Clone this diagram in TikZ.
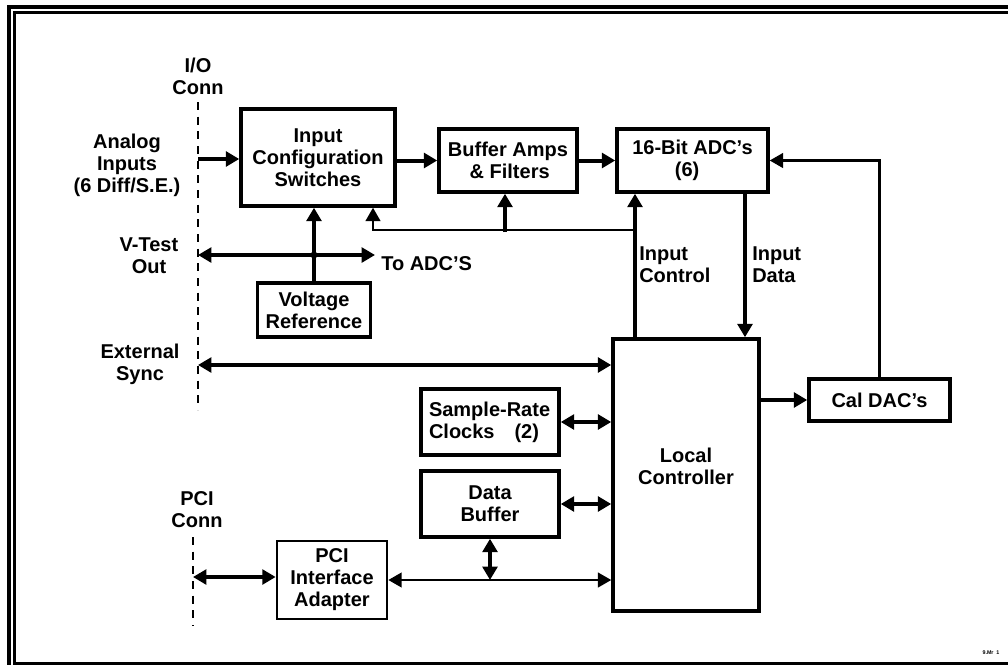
\documentclass[tikz,border=0pt]{standalone}
\usepackage{fontspec}
\setmainfont{Liberation Sans}
\usetikzlibrary{arrows.meta}
\newcommand{\lblfont}{\fontsize{15}{16.5}\selectfont\bfseries}
\tikzset{
  box/.style={draw, line width=2.6pt, inner sep=0pt, align=center, font=\lblfont},
  lbl/.style={inner sep=0pt, align=center, font=\lblfont},
  tip/.tip={Triangle[length=10pt,width=11pt]},
  arr/.style={line width=3pt, -tip},
  darr/.style={line width=3pt, tip-tip},
  tarr/.style={line width=1.6pt, -tip},
  tdarr/.style={line width=1.6pt, tip-tip},
  conn/.style={line width=1.5pt, dash pattern=on 6pt off 5pt},
  frame/.style={line width=3pt},
}
\begin{document}
\begin{tikzpicture}[x=0.75pt,y=-0.75pt]
\useasboundingbox (0,0) rectangle (1008,665);
\fill[white] (0,0) rectangle (1008,665);
\begin{scope}
\clip (0,0) rectangle (1008,665);
% frame (right and lower outer edges lie beyond the picture)
\draw[frame] (1008,7) -- (9,7) -- (9,665);
\draw[frame, line width=2.3pt] (1008,12.5) -- (14.5,12.5) -- (14.5,663.5) -- (1008,663.5);
\end{scope}

% boxes
\node[box, minimum width={154*0.75pt}, minimum height={97*0.75pt}] (sw) at (318,157.5) {Input\\Configuration\\Switches};
\node[box, minimum width={138*0.75pt}, minimum height={63*0.75pt}] (buf) at (508,160.5) {Buffer Amps\\\,\& Filters};
\node[box, minimum width={151*0.75pt}, minimum height={63*0.75pt}] (adc) at (692.5,160.5) {16-Bit ADC’s\\(6)\kern8pt};
\node[box, minimum width={113*0.75pt}, minimum height={54*0.75pt}] (vref) at (314,310) {Voltage\\Reference};
\node[box, minimum width={146*0.75pt}, minimum height={272*0.75pt}] (lc) at (686,475) {};
\node[lbl] (lctext) at (686,466) {Local\\Controller};
\node[box, minimum width={141*0.75pt}, minimum height={42*0.75pt}] (cal) at (879.5,400) {Cal DAC’s};
\node[box, minimum width={138*0.75pt}, minimum height={66*0.75pt}, align=left, text width={122*0.75pt}] (src) at (490,422) {Sample-Rate\\Clocks\ \ \ (2)};
\node[box, minimum width={138*0.75pt}, minimum height={66*0.75pt}] (db) at (490,504) {Data\\Buffer};
\node[box, line width=2pt, minimum width={110*0.75pt}, minimum height={78*0.75pt}] (pci) at (332,580) {PCI\\Interface\\Adapter};

% connector lines (dashed)
\coordinate (ioTop) at (198,102);
\coordinate (ioBot) at (198,410);
\draw[conn] (ioTop) -- (ioBot);
\coordinate (pcTop) at (193,537);
\coordinate (pcBot) at (193,626);
\draw[conn] (pcTop) -- (pcBot);

% labels
\node[lbl] (iolbl) at (198,76) {I/O\\Conn};
\node[lbl] (ainlbl) at (127,165) {Analog\\Inputs\\(6 Diff/S.E.)};
\node[lbl] (vtlbl) at (149,256) {V-Test\\Out};
\node[lbl] (eslbl) at (140,364) {External\\Sync};
\node[lbl] (pclbl) at (197,510) {PCI\\Conn};
\node[lbl, anchor=west] (tolbl) at (381,264) {To ADC’S};
\node[lbl, anchor=west, align=left] (iclbl) at (639,265) {Input\\Control};
\node[lbl, anchor=west, align=left] (idlbl) at (752,265) {Input\\Data};
\node[inner sep=0pt, font=\fontsize{4}{4}\selectfont\bfseries] (fig) at (991,653) {9.Mr\ \ 1};

% coordinates
\coordinate (ain) at (198,159);
\coordinate (vt) at (198,255);
\coordinate (toadc) at (375,255);
\coordinate (jn) at (314,255);
\coordinate (ic) at (635,230);
\coordinate (ctlL) at (373,230);
\coordinate (br) at (505,232);
\coordinate (id) at (745,0);
\coordinate (es) at (198,365);
\coordinate (pc) at (193,577);

% signal path
\draw[arr] (ain) -- (sw.west |- ain);
\draw[arr] (sw.east |- buf.west) -- (buf.west);
\draw[arr] (buf.east) -- (adc.west);

% V-test and reference
\draw[darr] (vt) -- (toadc);
\draw[arr] (vref.north) -- (vref.north |- sw.south);
\fill (jn) circle (2.6pt);

% control lines
\draw[arr] (lc.north -| ic) -- (adc.south -| ic);
\draw[tarr] (ic) -- (ctlL) -- (ctlL |- sw.south);
\draw[arr] (br) -- (br |- buf.south);
\draw[arr] (adc.south -| id) -- (lc.north -| id);

% cal DAC
\draw[arr] (lc.east |- cal.west) -- (cal.west);
\draw[tarr] (cal.north) -- (cal.north |- adc.east) -- (adc.east);

% controller bus
\draw[darr] (es) -- (lc.west |- es);
\draw[darr] (src.east) -- (lc.west |- src.east);
\draw[darr] (db.east) -- (lc.west |- db.east);
\draw[darr] (pc) -- (pci.west |- pc);
\draw[tdarr] (pci.east) -- (lc.west |- pci.east);
\draw[darr] (db.south) -- (db.south |- pci.east);
\end{tikzpicture}
\end{document}
